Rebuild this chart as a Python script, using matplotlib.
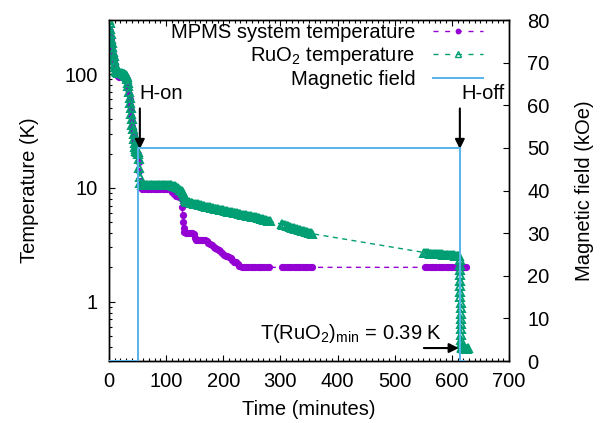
import matplotlib
matplotlib.use("Agg")
import matplotlib.pyplot as plt
from matplotlib.ticker import MultipleLocator, NullFormatter
from matplotlib.lines import Line2D

plt.rcParams['font.family'] = ['Liberation Sans', 'DejaVu Sans']
plt.rcParams['mathtext.fontset'] = 'custom'
plt.rcParams['mathtext.rm'] = 'Liberation Sans'
plt.rcParams['mathtext.it'] = 'Liberation Sans:italic'
plt.rcParams['font.size'] = 14.5

# ---------------- data ----------------
mpms_time = [0, 1, 2, 3, 4, 5, 6, 7, 8, 9, 10, 11, 12, 13, 14, 16, 18, 20, 22, 24,
             26, 27, 28, 29, 30, 31, 32, 33, 34, 35, 36, 37, 38, 39, 40, 41, 42, 43, 44,
             45, 46, 47, 48, 49, 50, 51, 52, 53, 54, 55,
             58, 62, 66, 70, 74, 78, 82, 86, 90, 94, 98, 102, 106,
             110, 114, 118, 122, 125, 127, 128, 129, 130, 131, 132,
             134, 137, 140, 143, 146, 149, 151,
             153, 156, 159, 162, 165, 168, 171,
             174, 177, 180, 183, 186, 189, 192, 195, 198, 201, 204, 207, 210, 213,
             216, 219, 222, 225, 228,
             232, 236, 240, 244, 248, 252, 256, 260, 264, 268, 272, 276, 280,
             303, 307, 311, 315, 319, 323, 327, 331, 335, 339, 343, 347, 351, 355,
             553, 557, 561, 565, 569, 573, 577, 581, 585, 589, 593, 597, 601, 605,
             609, 613, 617, 621, 625]
mpms_temp = [250, 238, 225, 210, 195, 180, 165, 152, 140, 130, 120, 112, 106, 102, 99, 96, 95, 98, 99, 99,
             98, 97, 96, 95, 93, 90, 86, 80, 74, 67, 60, 54, 48, 43, 39, 35, 32, 29, 26,
             24, 22, 21, 20.5, 20.2, 20, 19.5, 17, 14, 11.5, 10.2,
             9.8, 9.8, 9.8, 9.8, 9.8, 9.8, 9.8, 9.8, 9.8, 9.8, 9.8, 9.8, 9.8,
             9.2, 8.9, 8.5, 8.4, 8.3, 8.0, 6.8, 5.8, 5.0, 4.4, 4.1,
             4.0, 4.0, 4.0, 4.0, 4.0, 3.9, 3.6,
             3.5, 3.5, 3.5, 3.5, 3.5, 3.45, 3.4,
             3.3, 3.2, 3.12, 3.05, 2.95, 2.9, 2.85, 2.78, 2.7, 2.58, 2.52, 2.5, 2.45, 2.4,
             2.3, 2.25, 2.22, 2.15, 2.05,
             2.0, 2.0, 2.0, 2.0, 2.0, 2.0, 2.0, 2.0, 2.0, 2.0, 2.0, 2.0, 2.0,
             2.0, 2.0, 2.0, 2.0, 2.0, 2.0, 2.0, 2.0, 2.0, 2.0, 2.0, 2.0, 2.0, 2.0,
             2.0, 2.0, 2.0, 2.0, 2.0, 2.0, 2.0, 2.0, 2.0, 2.0, 2.0, 2.0, 2.0, 2.0,
             2.0, 2.0, 2.0, 2.0, 2.0]

ruo2_time = [0, 1, 2, 3, 4, 5, 6, 7, 8, 9, 10, 11, 12, 13, 14, 16, 18, 20, 22, 24,
             26, 27, 28, 29, 30, 31, 32, 33, 34, 35, 36, 37, 38, 39, 40, 41, 42, 43, 44,
             45, 46, 47, 48, 49, 50, 51, 52, 53, 54, 55,
             58, 61, 64, 67, 70, 73, 76, 79, 82, 85, 88, 91, 94, 97, 100, 103, 106,
             109, 112, 115, 118, 121, 124, 127, 129, 131, 133, 135, 137,
             140, 143, 146, 149, 152, 155, 158, 161, 164, 167, 170, 173, 176, 179,
             182, 185, 188, 191, 194, 197, 200, 203, 206, 209, 212, 215, 218, 221,
             224, 227, 230, 233, 236, 239, 242, 245, 248, 251, 254, 257, 260, 263,
             266, 269, 272, 275, 278, 281,
             302, 305, 308, 311, 314, 317, 320, 323, 326, 329, 332, 335, 338, 341,
             344, 347, 350, 353, 356,
             552, 555, 558, 561, 564, 567, 570, 573, 576, 579, 582, 585, 588, 591,
             594, 597, 600, 603, 606, 609, 611, 613,
             613.6, 613.8, 614.0, 614.2, 614.4, 614.6, 614.8, 615.0, 615.2, 615.4,
             615.6, 615.8, 616.0, 616.2, 616.4, 616.6, 616.8, 617.0,
             618, 620, 622, 624, 626, 628]
ruo2_temp = [300, 280, 250, 228, 205, 188, 172, 158, 145, 134, 124, 116, 110, 106, 104, 102, 102, 102, 102, 101,
             100, 100, 99, 98, 97, 94, 90, 84, 78, 70, 62, 56, 50, 45, 40, 36, 33, 30, 27,
             25, 23, 22, 21, 20.8, 20.5, 20, 18, 15, 12.5, 11,
             10.7, 10.7, 10.7, 10.7, 10.7, 10.65, 10.6, 10.6, 10.6, 10.6, 10.6, 10.6, 10.6, 10.6, 10.55, 10.5, 10.5,
             10.5, 10.45, 10.35, 10.2, 9.9, 9.6, 9.3, 9.0, 8.5, 8.0, 7.7, 7.55,
             7.45, 7.39, 7.33, 7.27, 7.21, 7.15, 7.09, 7.03, 6.97, 6.91, 6.85, 6.79, 6.73, 6.67,
             6.62, 6.58, 6.53, 6.48, 6.43, 6.38, 6.33, 6.29, 6.24, 6.19, 6.15, 6.1, 6.05, 6.0,
             5.96, 5.92, 5.88, 5.83, 5.79, 5.74, 5.7, 5.66, 5.62, 5.58, 5.54, 5.5, 5.47, 5.43,
             5.38, 5.32, 5.26, 5.2, 5.14, 5.08,
             4.8, 4.75, 4.69, 4.64, 4.58, 4.53, 4.48, 4.43, 4.38, 4.33, 4.28, 4.23, 4.19, 4.14,
             4.1, 4.06, 4.02, 3.98, 3.95,
             2.7, 2.67, 2.65, 2.64, 2.63, 2.63, 2.62, 2.61, 2.61, 2.6, 2.6, 2.59, 2.59, 2.58,
             2.57, 2.57, 2.56, 2.55, 2.54, 2.53, 2.52, 2.5,
             2.3, 2.1, 1.9, 1.7, 1.52, 1.36, 1.22, 1.09, 0.97, 0.87,
             0.78, 0.7, 0.63, 0.57, 0.51, 0.46, 0.42, 0.40,
             0.39, 0.39, 0.385, 0.38, 0.385, 0.39]

field_time = [0, 51, 51, 615, 615, 622]
field_value = [0, 0, 50, 50, 0, 0]

purple = '#9400D3'
green = '#009E73'
blue = '#56B4E9'

# ---------------- figure ----------------
fig = plt.figure(figsize=(6.02, 4.23), dpi=100)
ax = fig.add_axes([109 / 602, 1 - 361 / 423, 400 / 602, 341 / 423])

ax.plot(mpms_time, mpms_temp, color=purple, linestyle=(0, (3.6, 3.2)), lw=1,
        marker='o', markersize=5.2, markeredgewidth=0, markerfacecolor=purple,
        zorder=2)
ax.plot(ruo2_time, ruo2_temp, color=green, linestyle=(0, (3.6, 3.2)), lw=1,
        marker='^', markersize=5.6, markeredgewidth=1.4, markerfacecolor='none',
        markeredgecolor=green, zorder=3)

ax.set_yscale('log')
ax.set_xlim(0, 700)
ax.set_ylim(0.3, 300)
ax.xaxis.set_major_locator(MultipleLocator(100))
ax.xaxis.set_minor_locator(MultipleLocator(10))
ax.set_yticks([1, 10, 100])
ax.set_yticklabels(['1', '10', '100'])
ax.yaxis.set_minor_formatter(NullFormatter())

ax.tick_params(axis='both', which='both', direction='in', width=0.8)
ax.tick_params(axis='both', which='major', length=4.5)
ax.tick_params(axis='both', which='minor', length=2.3)
ax.tick_params(axis='x', which='both', top=True, pad=8)
ax.tick_params(axis='y', which='both', right=False, pad=8)
for s in ax.spines.values():
    s.set_linewidth(1.0)

ax.set_xlabel('Time (minutes)')
ax.set_ylabel('Temperature (K)')
ax.xaxis.set_label_coords(0.5, -0.115)
ax.yaxis.set_label_coords(-0.175, 0.5)

ax2 = ax.twinx()
ax2.plot(field_time, field_value, color=blue, lw=1.4, zorder=5)
ax2.set_ylim(0, 80)
ax2.set_yticks([0, 10, 20, 30, 40, 50, 60, 70, 80])
ax2.tick_params(axis='y', direction='in', length=4.5, width=0.8, pad=13)
ax2.set_ylabel('Magnetic field (kOe)')
ax2.yaxis.set_label_coords(1.165, 0.5)
for s in ax2.spines.values():
    s.set_linewidth(1.0)

# annotations
arrow_kw = dict(arrowstyle='-|>', color='black', lw=1.5, mutation_scale=14,
                shrinkA=0, shrinkB=0)
ax.annotate('', xy=(54, 22), xytext=(54, 50), arrowprops=arrow_kw, zorder=6)
ax.annotate('', xy=(614, 22), xytext=(614, 50), arrowprops=arrow_kw, zorder=6)
ax.text(54, 68, 'H-on', ha='left', va='center')
ax.text(692, 68, 'H-off', ha='right', va='center')
ax.annotate('', xy=(612, 0.39), xytext=(551, 0.39), arrowprops=arrow_kw, zorder=6)
ax.text(582, 0.47, r'T(RuO$_2$)$_{\mathrm{min}}$ = 0.39 K', ha='right', va='baseline')

# legend
handles = [
    Line2D([], [], color=purple, linestyle=(0, (3.6, 4.8)), lw=1, marker='o',
           markersize=4.2, markeredgewidth=0),
    Line2D([], [], color=green, linestyle=(0, (3.6, 4.8)), lw=1, marker='^',
           markersize=4.6, markerfacecolor='none', markeredgewidth=1.0),
    Line2D([], [], color=blue, lw=1.4),
]
labels = ['MPMS system temperature', 'RuO$_2$ temperature', 'Magnetic field']
leg = ax2.legend(handles, labels, loc='upper right', bbox_to_anchor=(483 / 602, 1 - 23 / 423),
                 bbox_transform=fig.transFigure, frameon=False, markerfirst=False,
                 numpoints=1, handlelength=2.5, handletextpad=0.85, labelspacing=0.15,
                 borderpad=0.0, borderaxespad=0.0)

fig.savefig('out.png', dpi=100)
